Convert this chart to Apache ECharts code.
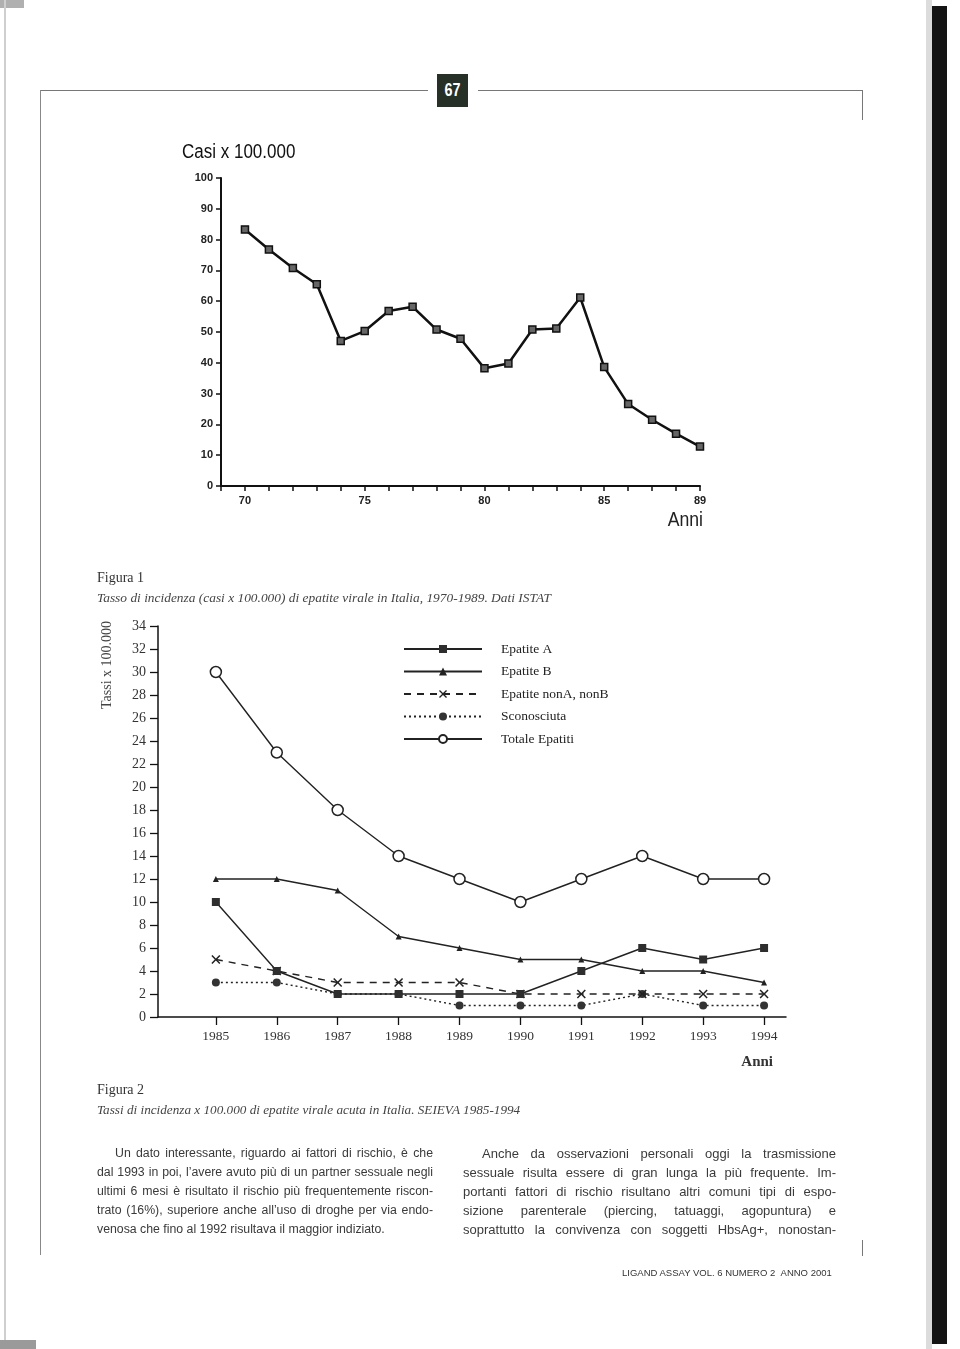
<!DOCTYPE html>
<html>
<head>
<meta charset="utf-8">
<script src="https://cdn.jsdelivr.net/npm/echarts@6/dist/echarts.min.js"></script>
<style>
html,body{margin:0;padding:0;background:#fff;}
#page{position:relative;width:960px;height:1349px;overflow:hidden;background:#fff;}
#chart{position:absolute;left:0;top:0;width:960px;height:1349px;}
.abs{position:absolute;}
.t{position:absolute;white-space:nowrap;}
.serif{font-family:'Liberation Serif','Times New Roman',serif;}
.col{position:absolute;font-family:'Liberation Sans',Arial,sans-serif;color:#3a3a3a;}
.col div{height:19px;line-height:19px;text-align:justify;text-align-last:justify;overflow:hidden;}
.col div.last{text-align-last:left;}
</style>
</head>
<body>
<div id="page">
  <!-- scan edges -->
  <div class="abs" style="left:0;top:0;width:24px;height:8px;background:#b0b0b0;"></div>
  <div class="abs" style="left:4px;top:0;width:2px;height:1340px;background:#cfcfcf;"></div>
  <div class="abs" style="left:0;top:1340px;width:36px;height:9px;background:#9a9a9a;"></div>
  <div class="abs" style="left:926px;top:0;width:6px;height:1349px;background:#dcdcdc;"></div>
  <div class="abs" style="left:932px;top:6px;width:15px;height:1338px;background:#141414;"></div>
  <!-- page frame -->
  <div class="abs" style="left:40px;top:90px;width:388px;height:1px;background:#777;"></div>
  <div class="abs" style="left:478px;top:90px;width:385px;height:1px;background:#777;"></div>
  <div class="abs" style="left:40px;top:90px;width:1px;height:1165px;background:#888;"></div>
  <div class="abs" style="left:862px;top:90px;width:1px;height:30px;background:#777;"></div>
  <div class="abs" style="left:862px;top:1240px;width:1px;height:16px;background:#777;"></div>
  <div class="abs" style="left:437px;top:74px;width:31px;height:33px;background:#263026;"></div>
  <div class="t" style="left:437px;top:74px;width:31px;height:33px;color:#fff;font-family:'Liberation Sans',Arial,sans-serif;font-weight:bold;font-size:18px;line-height:33px;text-align:center;transform:scaleX(0.8);">67</div>

  <div id="chart"></div>

  <!-- captions -->
  <div class="t serif" style="left:97px;top:570px;font-size:14px;color:#333;">Figura 1</div>
  <div class="t serif" style="left:97px;top:590px;font-size:13.4px;font-style:italic;color:#444;">Tasso di incidenza (casi x 100.000) di epatite virale in Italia, 1970-1989. Dati ISTAT</div>
  <div class="t serif" style="left:97px;top:1082px;font-size:14px;color:#333;">Figura 2</div>
  <div class="t serif" style="left:97px;top:1102px;font-size:13.2px;font-style:italic;color:#444;">Tassi di incidenza x 100.000 di epatite virale acuta in Italia. SEIEVA 1985-1994</div>

  <!-- body text -->
  <div class="col" style="left:97px;top:1144px;width:336px;font-size:12.3px;">
    <div style="text-indent:18px;">Un dato interessante, riguardo ai fattori di rischio, è che</div>
    <div>dal 1993 in poi, l’avere avuto più di un partner sessuale negli</div>
    <div>ultimi 6 mesi è risultato il rischio più frequentemente riscon-</div>
    <div>trato (16%), superiore anche all’uso di droghe per via endo-</div>
    <div class="last">venosa che fino al 1992 risultava il maggior indiziato.</div>
  </div>
  <div class="col" style="left:463px;top:1144px;width:373px;font-size:13px;">
    <div style="text-indent:19px;">Anche da osservazioni personali oggi la trasmissione</div>
    <div>sessuale risulta essere di gran lunga la più frequente. Im-</div>
    <div>portanti fattori di rischio risultano altri comuni tipi di espo-</div>
    <div>sizione parenterale (piercing, tatuaggi, agopuntura) e</div>
    <div>soprattutto la convivenza con soggetti HbsAg+, nonostan-</div>
  </div>
  <div class="t" style="left:622px;top:1267px;font-family:'Liberation Sans',Arial,sans-serif;font-size:9.5px;color:#333;">LIGAND ASSAY VOL. 6 NUMERO 2 &nbsp;ANNO 2001</div>
</div>

<script>
// ---- Figura 1 data ----
const anniTop = [70,71,72,73,74,75,76,77,78,79,80,81,82,83,84,85,86,87,88,89];
const casiTop = [83.3,76.8,70.8,65.5,47.1,50.3,56.8,58.2,50.8,47.8,38.2,39.8,50.8,51.1,61.2,38.6,26.6,21.5,17.0,12.8];
const topXLabels = [70,75,80,85,89];

// ---- Figura 2 data ----
const anniBottom = [1985,1986,1987,1988,1989,1990,1991,1992,1993,1994];
const epatiteA = [10,4,2,2,2,2,4,6,5,6];
const epatiteB = [12,12,11,7,6,5,5,4,4,3];
const epatiteNonANonB = [5,4,3,3,3,2,2,2,2,2];
const sconosciuta = [3,3,2,2,1,1,1,2,1,1];
const totaleEpatiti = [30,23,18,14,12,10,12,14,12,12];
const seriesNames = ['Epatite A','Epatite B','Epatite nonA, nonB','Sconosciuta','Totale Epatiti'];

function pairs(xs, ys){ return xs.map((x,i)=>[x, ys[i]]); }

const chart = echarts.init(document.getElementById('chart'), null, {renderer:'canvas'});
const SANS = "'Liberation Sans', Arial, sans-serif";
const SERIF = "'Liberation Serif', 'Times New Roman', serif";
const X_PATH = 'path://M0,1.2L1.2,0L5,3.8L8.8,0L10,1.2L6.2,5L10,8.8L8.8,10L5,6.2L1.2,10L0,8.8L3.8,5Z';

const option = {
  animation: false,
  backgroundColor: 'transparent',
  grid: [
    {left: 221, top: 178, width: 479, height: 308},
    {left: 158, top: 626, width: 628, height: 391}
  ],
  xAxis: [
    {
      gridIndex: 0, type: 'value', min: 69, max: 89, interval: 1,
      axisLine: {show: true, lineStyle: {color: '#111', width: 2}},
      axisTick: {show: true, length: 5, lineStyle: {color: '#111', width: 1.5}},
      splitLine: {show: false},
      axisLabel: {
        margin: 9, fontFamily: SANS, fontSize: 11, fontWeight: 'bold', color: '#222',
        formatter: v => topXLabels.indexOf(v) >= 0 ? String(v) : ''
      }
    },
    {
      gridIndex: 1, type: 'value', min: 1984.05, max: 1994.36,
      axisLine: {show: true, lineStyle: {color: '#111', width: 1.5}},
      axisTick: {show: true, length: 8, customValues: anniBottom, lineStyle: {color: '#111', width: 1.3}},
      splitLine: {show: false},
      axisLabel: {
        customValues: anniBottom, margin: 12, fontFamily: SERIF, fontSize: 13.5, color: '#333',
        formatter: v => String(Math.round(v))
      }
    }
  ],
  yAxis: [
    {
      gridIndex: 0, type: 'value', min: 0, max: 100, interval: 10,
      axisLine: {show: true, lineStyle: {color: '#111', width: 2}},
      axisTick: {show: true, length: 5, lineStyle: {color: '#111', width: 1.5}},
      splitLine: {show: false},
      axisLabel: {margin: 8, fontFamily: SANS, fontSize: 11, fontWeight: 'bold', color: '#222'}
    },
    {
      gridIndex: 1, type: 'value', min: 0, max: 34, interval: 2,
      axisLine: {show: true, lineStyle: {color: '#111', width: 1.5}},
      axisTick: {show: true, length: 8, lineStyle: {color: '#111', width: 1.3}},
      splitLine: {show: false},
      axisLabel: {margin: 12, fontFamily: SERIF, fontSize: 14, color: '#333'}
    }
  ],
  legend: {
    data: seriesNames,
    orient: 'vertical',
    left: 398, top: 637,
    itemWidth: 78, itemHeight: 10, itemGap: 8.5,
    selectedMode: false,
    textStyle: {fontFamily: SERIF, fontSize: 13.5, color: '#222', padding: [0,0,0,14]}
  },
  graphic: [
    {type: 'text', x: 182, y: 152, scaleX: 0.85, style: {text: 'Casi x 100.000', x: 0, y: 0, font: '20px ' + SANS, fill: '#111', textAlign: 'left', textVerticalAlign: 'middle'}},
    {type: 'text', x: 703, y: 520, scaleX: 0.84, style: {text: 'Anni', x: 0, y: 0, font: '21px ' + SANS, fill: '#222', textAlign: 'right', textVerticalAlign: 'middle'}},
    {type: 'text', x: 107, y: 665, rotation: Math.PI / 2, style: {text: 'Tassi x 100.000', x: 0, y: 0, font: '14px ' + SERIF, fill: '#444', textAlign: 'center', textVerticalAlign: 'middle'}},
    {type: 'text', style: {text: 'Anni', x: 773, y: 1062, font: 'bold 15px ' + SERIF, fill: '#333', textAlign: 'right', textVerticalAlign: 'middle'}}
  ],
  series: [
    {
      name: 'Casi', type: 'line', xAxisIndex: 0, yAxisIndex: 0,
      data: pairs(anniTop, casiTop),
      symbol: 'rect', symbolSize: 7,
      lineStyle: {color: '#111', width: 2.5},
      itemStyle: {color: '#666', borderColor: '#111', borderWidth: 1.5},
      z: 3
    },
    {
      name: 'Sconosciuta', type: 'line', xAxisIndex: 1, yAxisIndex: 1,
      data: pairs(anniBottom, sconosciuta),
      symbol: 'circle', symbolSize: 8,
      lineStyle: {color: '#222', width: 1.4, type: [2, 3]},
      itemStyle: {color: '#333', borderColor: '#222', borderWidth: 0},
      z: 2
    },
    {
      name: 'Epatite nonA, nonB', type: 'line', xAxisIndex: 1, yAxisIndex: 1,
      data: pairs(anniBottom, epatiteNonANonB),
      symbol: X_PATH, symbolSize: 9,
      lineStyle: {color: '#222', width: 1.4, type: [7, 6]},
      itemStyle: {color: '#222'},
      z: 3
    },
    {
      name: 'Epatite B', type: 'line', xAxisIndex: 1, yAxisIndex: 1,
      data: pairs(anniBottom, epatiteB),
      symbol: 'triangle', symbolSize: 6,
      lineStyle: {color: '#222', width: 1.4},
      itemStyle: {color: '#222'},
      z: 4
    },
    {
      name: 'Epatite A', type: 'line', xAxisIndex: 1, yAxisIndex: 1,
      data: pairs(anniBottom, epatiteA),
      symbol: 'rect', symbolSize: 8,
      lineStyle: {color: '#222', width: 1.4},
      itemStyle: {color: '#2e2e2e'},
      z: 5
    },
    {
      name: 'Totale Epatiti', type: 'line', xAxisIndex: 1, yAxisIndex: 1,
      data: pairs(anniBottom, totaleEpatiti),
      symbol: 'circle', symbolSize: 11, showAllSymbol: true,
      lineStyle: {color: '#222', width: 1.4},
      itemStyle: {color: '#fff', borderColor: '#222', borderWidth: 1.5},
      z: 6
    }
  ]
};
chart.setOption(option);
</script>
</body>
</html>
